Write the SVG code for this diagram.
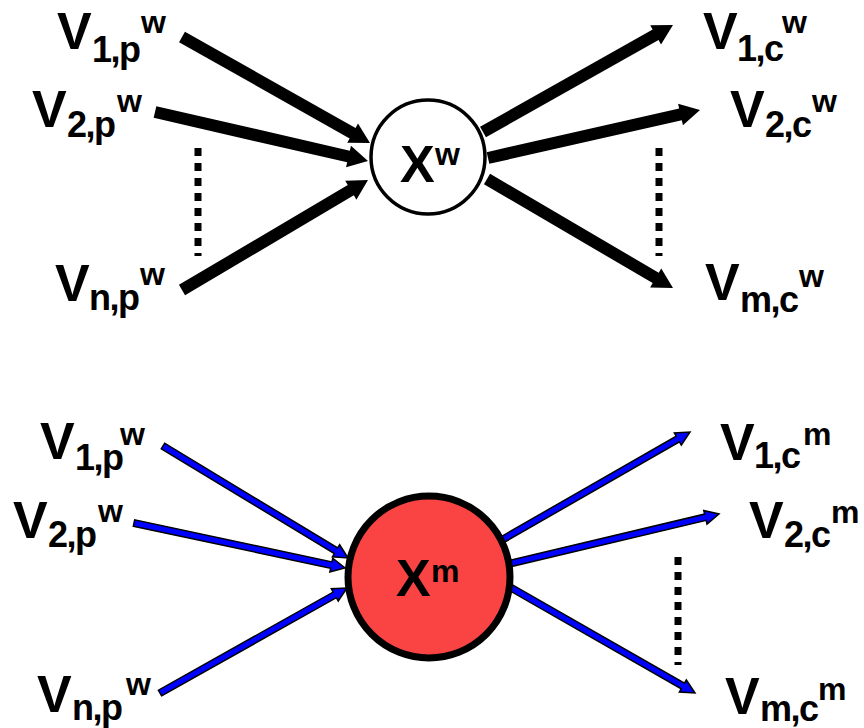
<svg xmlns="http://www.w3.org/2000/svg" width="864" height="728" viewBox="0 0 864 728">
<style>
text{font-family:"Liberation Sans",Arial,sans-serif;font-weight:bold;fill:#000}
.v{font-size:52px}
.s{font-size:36px;letter-spacing:-1.5px}
.u{font-size:32px}
.bk{fill:#000}
.bl{fill:#0000ff;stroke:#000;stroke-width:1.5;stroke-linejoin:miter}
.dot{stroke:#000;stroke-width:7;stroke-dasharray:8 7;fill:none}
</style>
<rect width="864" height="728" fill="#fff"/>
<g id="connectors">
<polygon class="bk" points="179.05,42.23 349.65,138.43 347.2,142.78 370,143 358.0,123.62 355.55,127.97 184.95,31.77"/>
<polygon class="bk" points="153.66,117.84 347.16,162.34 346.04,167.21 368,161 350.96,145.79 349.84,150.66 156.34,106.16"/>
<polygon class="bk" points="185.05,295.17 353.85,195.37 356.4,199.67 368,180 345.2,180.73 347.75,185.03 178.95,284.83"/>
<polygon class="bk" points="485.95,137.23 658.55,40.03 661.0,44.38 673,25 650.2,25.22 652.65,29.57 480.05,126.77"/>
<polygon class="bk" points="489.33,163.85 681.83,120.25 682.93,125.13 700,110 678.07,103.67 679.17,108.55 486.67,152.15"/>
<polygon class="bk" points="483.96,184.18 652.66,283.08 650.13,287.39 673,288 661.27,268.41 658.74,272.72 490.04,173.82"/>
<line class="dot" x1="198" y1="148" x2="198" y2="256"/>
<line class="dot" x1="659" y1="148" x2="659" y2="256"/>
<polygon class="bl" points="161.32,448.78 334.35,553.53 332.40,556.74 348,558 339.66,544.76 337.71,547.97 164.68,443.22"/>
<polygon class="bl" points="133.32,526.18 330.63,568.25 329.85,571.92 345,568 332.77,558.22 331.99,561.89 134.68,519.82"/>
<polygon class="bl" points="161.59,695.83 336.38,597.69 338.22,600.96 347,588 331.36,588.76 333.20,592.03 158.41,690.17"/>
<polygon class="bl" points="501.62,543.82 679.47,441.79 681.34,445.05 690,432 674.36,432.89 676.23,436.15 498.38,538.18"/>
<polygon class="bl" points="508.75,567.16 706.13,520.39 707.0,524.04 719,514 703.76,510.42 704.63,514.07 507.25,560.84"/>
<polygon class="bl" points="506.38,588.82 681.23,688.86 679.37,692.12 695,693 686.33,679.96 684.47,683.22 509.62,583.18"/>
<line class="dot" x1="678" y1="557" x2="678" y2="665"/>
</g>
<g id="xw">
<circle cx="428" cy="157" r="57" fill="#fff" stroke="#000" stroke-width="3.5"/>
<text x="400" y="182" class="v">X</text><text x="435" y="165" class="u">w</text>
</g>
<g id="xm">
<circle cx="429" cy="577" r="81" fill="#fa4343" stroke="#000" stroke-width="7"/>
<text x="396" y="596" class="v">X</text><text x="431" y="582" class="u">m</text>
</g>
<g id="v1pw-top"><text x="57" y="49" class="v">V</text><text x="92" y="62" class="s">1,p</text><text x="141" y="33" class="u">w</text></g>
<g id="v2pw-top"><text x="32" y="127" class="v">V</text><text x="67" y="137" class="s">2,p</text><text x="117" y="112" class="u">w</text></g>
<g id="vnpw-top"><text x="55" y="301" class="v">V</text><text x="89" y="310" class="s">n,p</text><text x="140" y="285" class="u">w</text></g>
<g id="v1cw"><text x="703" y="49" class="v">V</text><text x="737" y="61" class="s">1,c</text><text x="782" y="33" class="u">w</text></g>
<g id="v2cw"><text x="730" y="127" class="v">V</text><text x="765" y="137" class="s">2,c</text><text x="812" y="112" class="u">w</text></g>
<g id="vmcw"><text x="705" y="300" class="v">V</text><text x="740" y="312" class="s">m,c</text><text x="799" y="287" class="u">w</text></g>
<g id="v1pw-bot"><text x="40" y="459" class="v">V</text><text x="75" y="470" class="s">1,p</text><text x="120" y="445" class="u">w</text></g>
<g id="v2pw-bot"><text x="13" y="538" class="v">V</text><text x="48" y="547" class="s">2,p</text><text x="98" y="522" class="u">w</text></g>
<g id="vnpw-bot"><text x="37" y="712" class="v">V</text><text x="72" y="720" class="s">n,p</text><text x="126" y="695" class="u">w</text></g>
<g id="v1cm"><text x="720" y="460" class="v">V</text><text x="754" y="468" class="s">1,c</text><text x="803" y="445" class="u">m</text></g>
<g id="v2cm"><text x="749" y="538" class="v">V</text><text x="784" y="547" class="s">2,c</text><text x="831" y="523" class="u">m</text></g>
<g id="vmcm"><text x="725" y="714" class="v">V</text><text x="760" y="721" class="s">m,c</text><text x="818" y="700" class="u">m</text></g>
</svg>
